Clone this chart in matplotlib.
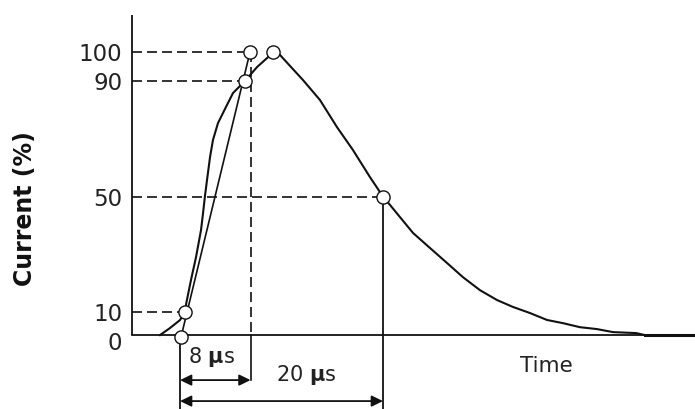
import matplotlib
matplotlib.use("Agg")
import matplotlib.pyplot as plt

# ---- data (time in µs-like units, current in %) ----
rise_t = [-1.97, -0.99, 0.0, 0.49, 0.62, 1.08, 1.58, 2.07, 2.27, 2.46, 2.66, 2.96, 3.25, 3.74,
          4.53, 5.22, 6.40, 7.59, 8.57, 9.26]
rise_i = [2.08, 4.5, 7.27, 10.0, 13.15, 21.1, 29.1, 38.4, 44.3, 50.2, 55.7, 63.7, 69.6, 75.4,
          81.0, 85.8, 90.0, 94.8, 97.9, 100.0]
decay_t = [9.26, 9.85, 10.94, 12.12, 13.79, 15.47, 17.04, 18.72, 20.0, 20.69, 21.67, 22.96,
           24.63, 26.31, 27.88, 29.56, 31.23, 32.81, 34.48, 36.16, 37.73, 39.41, 41.08,
           42.66, 44.93, 45.8]
decay_i = [100.0, 99.0, 94.8, 90.3, 83.4, 74.0, 66.1, 56.7, 50.0, 47.1, 42.9, 37.4,
           32.2, 27.0, 22.1, 17.6, 14.2, 11.8, 9.7, 7.3, 6.2, 4.8, 4.15,
           3.1, 2.77, 2.08]
front_t = [0.1, 6.9]          # virtual front line
front_i = [1.4, 100.0]
mark_t = [0.1, 0.49, 6.40, 6.9, 9.16, 20.0]
mark_i = [1.4, 10.0, 90.0, 100.0, 100.0, 50.0]
ref_levels = [10, 50, 90, 100]
ref_ends = [0.49, 20.0, 6.40, 6.9]
ytick_vals = [0, 10, 50, 90, 100]
ytick_labels = ["0", "10", "50", "90", "100"]
t_front = 8    # label value
t_half = 20
front_end = 6.95
baseline = 2.08

fig = plt.figure(figsize=(6.95, 4.09), dpi=100)
ax = fig.add_axes([132/695, 0, 1 - 132/695, 1])
ax.set_xlim(-4.73, 50.74)
ax.set_ylim(-23.5, 118)
for s in ax.spines.values():
    s.set_visible(False)
ax.set_xticks([])
ax.set_yticks(ytick_vals)
ax.set_yticklabels(ytick_labels, fontsize=16.5, color="#222222")
ax.tick_params(axis="y", length=0, pad=7)

col = "#111111"
# axes lines
ax.plot([-4.73, -4.73], [baseline, 112.8], color=col, lw=1.3, clip_on=False, solid_capstyle="butt")
ax.plot([-4.73, 50.74], [baseline, baseline], color=col, lw=1.3, clip_on=False)

# dashed reference lines
dash = (6, 3)
for lev, end in zip(ref_levels, ref_ends):
    ax.plot([-4.73, end], [lev, lev], color=col, lw=1.2, dashes=dash)
ax.plot([front_end, front_end], [100, baseline], color=col, lw=1.2, dashes=dash)
ax.plot([front_end, front_end], [baseline, -13.5], color=col, lw=1.2)

# vertical solid lines
ax.plot([0.0, 0.0], [1.4, -23.5], color=col, lw=1.3)
ax.plot([t_half, t_half], [50, -23.5], color=col, lw=1.3)

# curves
ax.plot(front_t, front_i, color=col, lw=1.2)
ax.plot(rise_t, rise_i, color=col, lw=1.5, solid_joinstyle="round")
ax.plot(decay_t, decay_i, color=col, lw=1.5, solid_joinstyle="round")
ax.plot([45.8, 50.74], [baseline, baseline], color=col, lw=2.2)

# markers
ax.plot(mark_t, mark_i, linestyle="none", marker="o", markersize=9.5,
        markerfacecolor="white", markeredgecolor=col, markeredgewidth=1.0, zorder=5, clip_on=False)

# arrows
astyle = "<|-|>,head_length=0.45,head_width=0.22"
ax.annotate("", xy=(0, -13.5), xytext=(front_end, -13.5),
            arrowprops=dict(arrowstyle=astyle, color=col, lw=1.3, shrinkA=0, shrinkB=0, mutation_scale=15))
ax.annotate("", xy=(0, -20.76), xytext=(t_half, -20.76),
            arrowprops=dict(arrowstyle=astyle, color=col, lw=1.3, shrinkA=0, shrinkB=0, mutation_scale=15))

ax.text(0.8, -5.5, "%d $\\mathbf{µ}$s" % t_front, fontsize=15, ha="left", va="center", color="#222222")
ax.text(9.5, -11.8, "%d $\\mathbf{µ}$s" % t_half, fontsize=15, ha="left", va="center", color="#222222")
ax.text(33.5, -8.65, "Time", fontsize=15.5, ha="left", va="center", color="#222222")

fig.text(25/695, 1 - 209/409, "Current (%)", rotation=90, fontsize=17, fontweight="bold",
         ha="center", va="center", color="#111111")

fig.savefig("out.png", dpi=100)
